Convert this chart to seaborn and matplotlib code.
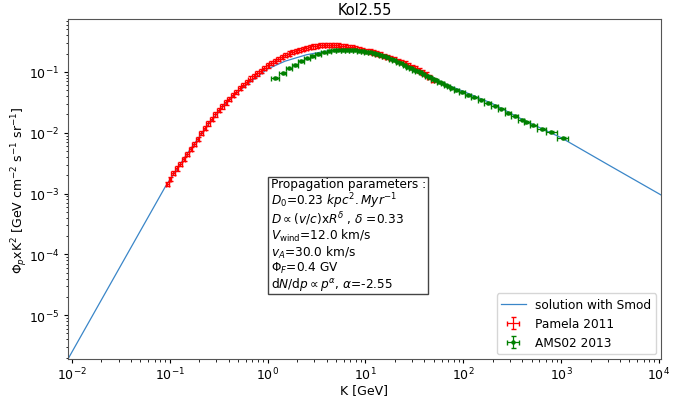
import numpy as np
import pandas as pd
import matplotlib
matplotlib.use("Agg")
import matplotlib.pyplot as plt
import seaborn as sns

# ---- model line (solution with Smod) ----
model_K = [0.0091, 0.09, 0.15, 0.25, 0.4, 0.6, 1.0, 1.5, 2.5, 4.0, 6.0,
           10.0, 15.0, 25.0, 40.0, 60.0, 100.0, 200.0, 400.0, 1000.0, 3000.0, 11400.0]
model_flux = [1.9e-6, 1.3e-3, 4.5e-3, 0.014, 0.035, 0.060, 0.112, 0.150,
              0.192, 0.220, 0.229, 0.216, 0.186, 0.138, 0.097, 0.067, 0.048,
              0.030, 0.0166, 0.0083, 0.0030, 8.8e-4]

# ---- Pamela 2011 ----
pamela_K = [0.094, 0.100, 0.108, 0.117, 0.127, 0.138, 0.150, 0.163, 0.177, 0.192,
            0.209, 0.227, 0.246, 0.267, 0.290, 0.315, 0.342, 0.371, 0.403, 0.438,
            0.476, 0.517, 0.561, 0.609, 0.662, 0.719, 0.781, 0.848, 0.921, 1.00,
            1.09, 1.18, 1.28, 1.39, 1.51, 1.64, 1.78, 1.93, 2.10, 2.28,
            2.48, 2.69, 2.92, 3.17, 3.45, 3.74, 4.06, 4.41, 4.79, 5.21,
            5.65, 6.14, 6.67, 7.24, 7.87, 8.55, 9.28, 10.1, 11.0, 11.9,
            12.9, 14.0, 15.3, 16.6, 18.0, 19.6, 21.3, 23.1, 25.1, 27.3,
            29.6, 32.2, 35.0, 38.0, 41.3, 44.8, 48.7]
pamela_flux = [1.42e-3, 1.75e-3, 2.2e-3, 2.6e-3, 3.1e-3, 3.75e-3, 4.5e-3, 5.4e-3, 6.6e-3, 8.0e-3,
               9.8e-3, 0.0120, 0.0142, 0.0170, 0.0200, 0.0234, 0.0272, 0.0315, 0.0362, 0.0413,
               0.047, 0.054, 0.061, 0.069, 0.078, 0.086, 0.095, 0.105, 0.116, 0.128,
               0.141, 0.153, 0.166, 0.178, 0.190, 0.201, 0.212, 0.222, 0.231, 0.240,
               0.249, 0.257, 0.264, 0.270, 0.275, 0.278, 0.280, 0.281, 0.279, 0.276,
               0.271, 0.265, 0.259, 0.253, 0.246, 0.240, 0.233, 0.225, 0.217, 0.209,
               0.202, 0.195, 0.186, 0.177, 0.170, 0.162, 0.154, 0.146, 0.138, 0.130,
               0.122, 0.114, 0.106, 0.098, 0.091, 0.084, 0.075]
pamela_rel_err = 0.08

# ---- AMS02 2013 ----
ams_K = [1.18, 1.42, 1.65, 1.90, 2.18, 2.51, 2.87, 3.28, 3.78, 4.25,
         4.75, 5.30, 5.85, 6.45, 7.10, 7.80, 8.55, 9.35, 10.2, 11.1,
         12.1, 13.1, 14.2, 15.4, 16.7, 18.1, 19.6, 21.2, 23.0, 24.9,
         26.9, 29.0, 31.3, 33.7, 36.3, 39.1, 42.1, 45.3, 48.8, 52.5,
         56.5, 60.8, 65.4, 70.3, 75.6, 85.0, 97.0, 112.0, 130.0, 152.0,
         178.0, 210.0, 245.0, 287.0, 336.0, 394.0, 443.0, 518.0, 631.0, 786.0,
         1035.0]
ams_flux = [0.079, 0.096, 0.114, 0.131, 0.150, 0.167, 0.184, 0.197, 0.210, 0.220,
            0.227, 0.231, 0.232, 0.232, 0.231, 0.229, 0.225, 0.220, 0.215, 0.210,
            0.204, 0.197, 0.190, 0.183, 0.174, 0.166, 0.157, 0.148, 0.138, 0.130,
            0.122, 0.115, 0.109, 0.105, 0.099, 0.093, 0.087, 0.082, 0.077, 0.073,
            0.069, 0.066, 0.062, 0.058, 0.055, 0.050, 0.047, 0.042, 0.038, 0.035,
            0.031, 0.028, 0.025, 0.0213, 0.0188, 0.0165, 0.0150, 0.0132, 0.0116, 0.0103,
            0.0082]
ams_rel_err = 0.03


def bin_halfwidths(K):
    """x error bars from contiguous log bins around each point."""
    lk = np.log10(np.asarray(K))
    d = np.diff(lk)
    left = np.concatenate([[d[0]], d]) / 2
    right = np.concatenate([d, [d[-1]]]) / 2
    K = np.asarray(K)
    return np.vstack([K - 10 ** (lk - left), 10 ** (lk + right) - K])


fig = plt.figure(figsize=(6.94, 4.02), dpi=100)
ax = fig.add_axes([0.098, 0.1045, 0.8544, 0.8455])

model_df = pd.DataFrame({"K": model_K, "flux": model_flux})
sns.lineplot(data=model_df, x="K", y="flux", ax=ax, color="#3a86c8", lw=0.9,
             label="solution with Smod", estimator=None, sort=True)

pK = np.asarray(pamela_K)
pF = np.asarray(pamela_flux)
ax.errorbar(pK, pF, yerr=pF * pamela_rel_err, xerr=bin_halfwidths(pK),
            fmt="none", ecolor="red", elinewidth=0.9, capsize=1.8, label="Pamela 2011")

aK = np.asarray(ams_K)
aF = np.asarray(ams_flux)
ax.errorbar(aK, aF, yerr=aF * ams_rel_err, xerr=bin_halfwidths(aK),
            fmt="o", color="green", ms=2.2, ecolor="green", elinewidth=0.9,
            capsize=1.8, label="AMS02 2013")

ax.set_xscale("log")
ax.set_yscale("log")
ax.set_xlim(0.0091, 1.05e4)
ax.set_ylim(1.9e-6, 0.74)
ax.set_title("Kol2.55", fontsize=10.5, pad=4)
ax.set_xlabel("K [GeV]", fontsize=9, labelpad=1)
ax.set_ylabel(r"$\Phi_p$xK$^2$ [GeV cm$^{-2}$ s$^{-1}$ sr$^{-1}$]", fontsize=9, labelpad=-1)
ax.tick_params(labelsize=9)
ax.tick_params(which="major", length=3)
ax.tick_params(which="minor", length=1.8)
ax.tick_params(axis="x", which="both", pad=1.5)
for s in ax.spines.values():
    s.set_color("#555555")

txt = ("Propagation parameters :\n"
       r"$D_0$=0.23 $kpc^2.Myr^{-1}$" "\n"
       r"$D \propto (v/c)$x$R^\delta$ , $\delta$ =0.33" "\n"
       r"$V_{\rm wind}$=12.0 km/s" "\n"
       r"$v_A$=30.0 km/s" "\n"
       r"$\Phi_F$=0.4 GV" "\n"
       r"d$N$/d$p \propto p^\alpha$, $\alpha$=-2.55")
ax.text(0.342, 0.535, txt, transform=ax.transAxes, fontsize=8.7, va="top", ha="left",
        linespacing=1.0,
        bbox=dict(boxstyle="square,pad=0.2", facecolor="white", edgecolor="#444444"))

ax.legend(loc="lower right", fontsize=8.7, borderaxespad=0.4)

fig.savefig("out.png", dpi=100)
